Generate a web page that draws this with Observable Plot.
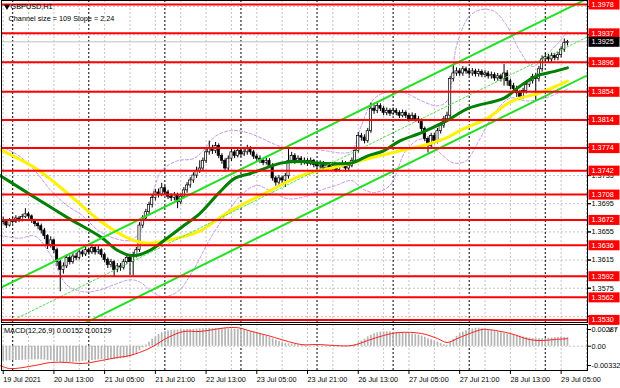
<!DOCTYPE html>
<html>
<head>
<meta charset="utf-8">
<script src="https://cdn.jsdelivr.net/npm/d3@7"></script>
<script src="https://cdn.jsdelivr.net/npm/@observablehq/plot@0.6"></script>
<style>
  html, body { margin: 0; padding: 0; background: #fff; }
  #chart { width: 620px; height: 388px; overflow: hidden; background: #fff; }
  #chart svg { display: block; }
  #chart svg.macd { margin-top: -3px; position: relative; }
</style>
</head>
<body>
<div id="chart"></div>
<script>
// ---------------- DATA ----------------
const symbolTitle = "GBPUSD,H1";
const channelSize = 109;
const channelSlope = 2.24;
const macdParams = "MACD(12,26,9)";
const macdMainLast = "0.00152";
const macdSignalLast = "0.00129";

// x-axis labels (one every 16 hourly bars, bar 0 = 19 Jul 21:00)
const labelBars = [0, 16, 32, 48, 64, 80, 96, 112, 128, 144, 160, 176];
const xLabels = ["19 Jul 2021", "20 Jul 13:00", "21 Jul 05:00", "21 Jul 21:00", "22 Jul 13:00", "23 Jul 05:00",
                 "23 Jul 21:00", "26 Jul 13:00", "27 Jul 05:00", "27 Jul 21:00", "28 Jul 13:00", "29 Jul 05:00"];
const daySeparatorBars = [3, 27, 51, 75, 99, 123, 147, 171];
const gridBars = [0, 8, 16, 24, 32, 40, 48, 56, 64, 72, 80, 88, 96, 104, 112, 120, 128, 136, 144, 152, 160, 168, 176, 184];

// price axis
const priceGrid = [1.3975, 1.3935, 1.3895, 1.3855, 1.3815, 1.3775, 1.3735, 1.3695, 1.3655, 1.3615, 1.3575, 1.3535];
const priceTickLabels = [1.3735, 1.3695, 1.3655, 1.3615, 1.3575]; // the ones not hidden by level boxes
const levels = [1.3978, 1.3937, 1.3896, 1.3854, 1.3814, 1.3774, 1.3742, 1.3708, 1.3672, 1.3636, 1.3592, 1.3562, 1.3530];
const bidPrice = 1.3925;

// hourly candles, prices in pips (x 1e-4)
const firstOpenPips = 13672;
const closePips = [
  13669,13664,13671,13669,13674,13671,13676,13680,13677,13671,
  13666,13663,13657,13649,13636,13643,13629,13612,13601,13606,
  13618,13612,13620,13618,13626,13623,13629,13626,13632,13626,
  13629,13622,13615,13608,13612,13601,13606,13604,13612,13618,
  13612,13622,13629,13664,13674,13683,13693,13703,13711,13708,
  13717,13711,13705,13703,13707,13697,13705,13714,13721,13728,
  13735,13742,13745,13756,13768,13773,13770,13777,13763,13756,
  13745,13759,13768,13763,13770,13765,13768,13773,13768,13762,
  13759,13756,13753,13756,13749,13731,13725,13731,13728,13734,
  13756,13763,13756,13759,13753,13756,13752,13756,13750,13748,
  13752,13745,13749,13745,13748,13743,13749,13752,13745,13749,
  13756,13770,13791,13789,13784,13798,13830,13827,13834,13830,
  13824,13827,13823,13827,13824,13820,13824,13820,13815,13820,
  13815,13813,13801,13787,13777,13791,13784,13798,13806,13815,
  13820,13872,13880,13883,13880,13886,13883,13880,13883,13879,
  13882,13878,13880,13876,13878,13873,13876,13872,13880,13869,
  13862,13858,13852,13847,13855,13864,13869,13875,13872,13886,
  13900,13903,13900,13905,13902,13906,13914,13923,13925
];
const highPips = [
  13676,13672,13674,13675,13678,13677,13680,13688,13683,13679,
  13673,13669,13666,13660,13651,13648,13645,13632,13615,13611,
  13622,13621,13624,13625,13630,13629,13633,13632,13636,13634,
  13635,13631,13625,13618,13616,13614,13610,13610,13616,13622,
  13621,13626,13633,13668,13678,13687,13697,13707,13715,13716,
  13724,13720,13714,13709,13711,13710,13709,13718,13725,13732,
  13739,13747,13756,13760,13772,13784,13778,13782,13780,13766,
  13759,13763,13772,13771,13774,13773,13772,13778,13776,13771,
  13765,13763,13760,13760,13759,13752,13734,13735,13734,13738,
  13775,13768,13766,13763,13762,13760,13759,13760,13758,13754,
  13756,13755,13753,13752,13752,13751,13753,13756,13755,13753,
  13760,13774,13796,13795,13793,13802,13838,13835,13838,13837,
  13833,13831,13830,13831,13830,13827,13828,13827,13823,13824,
  13823,13819,13816,13804,13790,13795,13795,13802,13810,13819,
  13825,13876,13893,13888,13887,13890,13889,13887,13887,13886,
  13886,13885,13884,13883,13882,13881,13880,13879,13893,13884,
  13872,13866,13862,13856,13859,13868,13873,13879,13880,13890,
  13905,13908,13907,13909,13908,13910,13918,13929,13927
];
const lowPips = [
  13665,13660,13662,13666,13667,13668,13669,13674,13673,13667,
  13662,13658,13652,13644,13630,13632,13624,13606,13570,13595,
  13603,13608,13609,13614,13615,13619,13620,13622,13623,13622,
  13623,13618,13611,13603,13604,13591,13597,13599,13601,13609,
  13593,13592,13618,13626,13660,13670,13679,13689,13699,13703,
  13705,13707,13701,13698,13699,13688,13694,13702,13710,13717,
  13724,13731,13738,13741,13752,13764,13765,13766,13759,13751,
  13740,13742,13755,13759,13760,13761,13762,13764,13764,13758,
  13755,13752,13749,13750,13745,13727,13720,13721,13723,13718,
  13730,13752,13751,13752,13749,13750,13748,13749,13746,13744,
  13745,13741,13742,13741,13742,13739,13740,13746,13740,13741,
  13746,13753,13767,13784,13780,13781,13795,13822,13823,13826,
  13820,13820,13819,13820,13820,13816,13817,13816,13811,13812,
  13811,13809,13797,13783,13767,13773,13779,13780,13794,13802,
  13811,13816,13868,13876,13876,13876,13879,13876,13876,13875,
  13875,13874,13874,13872,13872,13869,13869,13868,13862,13862,
  13857,13853,13846,13842,13843,13851,13860,13865,13841,13868,
  13882,13896,13895,13896,13898,13898,13902,13910,13919
];

// moving averages (read at sample bars), pips
const maSlowBars = [-1,10,20,31,41,46,52,62,67,73,83,94,104,115,125,132,140,145,153,159,163,169,178];
const maSlowPips = [13772,13746,13711,13669,13643,13639,13643,13656,13671,13688,13711,13735,13746,13759,13770,13777,13789,13801,13817,13837,13845,13852,13869];
const maFastBars = [-1,10,20,31,36,41,46,52,57,62,68,73,78,83,88,94,99,104,110,115,120,125,132,140,147,158,163,168,174,178];
const maFastPips = [13735,13704,13676,13647,13629,13621,13628,13647,13664,13681,13710,13731,13738,13746,13753,13755,13753,13752,13753,13763,13770,13784,13796,13813,13831,13845,13862,13876,13883,13888];

// Bollinger bands (read at sample bars), pips
const bbUpperBars = [-1,5,10,15,20,25,30,35,40,43,47,50,55,60,63,67,72,77,82,87,92,97,102,107,110,113,117,122,127,132,137,140,143,147,151,155,159,163,167,171,175,178];
const bbUpperPips = [13777,13763,13742,13714,13693,13678,13657,13646,13643,13654,13707,13742,13756,13759,13770,13791,13799,13796,13787,13777,13773,13773,13770,13767,13770,13806,13844,13855,13852,13841,13834,13841,13919,13961,13971,13968,13947,13912,13890,13905,13923,13940];
const bbLowerBars = [-1,5,10,15,20,25,30,35,40,43,47,50,55,60,65,70,75,80,85,90,95,100,105,110,113,117,122,127,132,137,142,146,150,155,160,165,170,175,178];
const bbLowerPips = [13650,13646,13649,13622,13580,13570,13572,13580,13587,13584,13570,13563,13570,13601,13643,13678,13707,13721,13711,13702,13705,13714,13721,13728,13717,13711,13721,13770,13787,13770,13753,13756,13784,13824,13845,13841,13844,13852,13858];

// regression channel end points (bars, prices)
const channelBars = [-1, 185];
const channelUpper = [1.35750, 1.39880];
const channelMiddle = [1.35205, 1.39335];
const channelLower = [1.34660, 1.38790];

// MACD histogram per bar (x 1e-5)
const macdHist = [
  -255,-255,-250,-250,-248,-245,-243,-240,-238,-236,
  -235,-234,-235,-238,-245,-250,-258,-268,-278,-282,
  -280,-278,-275,-270,-265,-260,-255,-250,-245,-240,
  -236,-232,-230,-230,-228,-228,-225,-220,-212,-200,
  -185,-165,-130,-80,-30,20,70,120,160,200,
  230,250,262,270,275,280,283,285,287,290,
  292,295,298,300,303,305,306,305,303,300,
  298,296,295,293,290,285,278,268,255,240,
  225,208,190,170,148,125,100,80,60,45,
  40,35,28,22,16,10,5,2,0,-3,
  -5,-6,-7,-8,-8,-7,-6,-5,-3,0,
  10,30,60,90,120,160,190,215,230,240,
  245,245,243,240,237,233,228,222,215,208,
  200,190,175,155,130,110,90,70,45,25,
  15,60,120,170,210,240,265,285,300,310,
  310,300,290,280,270,258,245,232,220,210,
  200,190,180,170,160,150,140,132,128,126,
  128,132,138,142,146,150,154,152,152
];
// MACD signal line (read at sample bars), x 1e-5
const signalBars = [-1,2,10,15,20,25,31,36,40,46,52,57,62,70,74,78,83,94,99,110,115,120,125,132,137,140,144,151,153,160,166,170,174,178];
const signalVals = [-332,-384,-332,-280,-280,-298,-246,-194,-160,-40,150,253,253,315,318,260,190,29,29,12,98,184,236,218,132,64,150,287,287,218,115,98,115,129];
const macdTicks = [0.00287, 0, -0.00332];
const macdTickLabels = ["0.00287", "0.00", "-0.00332"];

// ---------------- BUILD ----------------
const bars = closePips.map((c, i) => ({
  i,
  o: (i === 0 ? firstOpenPips : closePips[i - 1]) / 1e4,
  c: c / 1e4,
  h: highPips[i] / 1e4,
  l: lowPips[i] / 1e4
}));
const pts = (bs, vs, k) => bs.map((b, j) => ({b, v: vs[j] / k}));
const maSlow = pts(maSlowBars, maSlowPips, 1e4);
const maFast = pts(maFastBars, maFastPips, 1e4);
const bbUp = pts(bbUpperBars, bbUpperPips, 1e4);
const bbLo = pts(bbLowerBars, bbLowerPips, 1e4);
const chUp = pts(channelBars, channelUpper, 1);
const chMid = pts(channelBars, channelMiddle, 1);
const chLo = pts(channelBars, channelLower, 1);
const hist = macdHist.map((v, i) => ({i, v: v / 1e5}));
const signal = pts(signalBars, signalVals, 1e5);

// layout
const FONT = "'Liberation Sans', Arial, sans-serif";
const FS = 7.3;
const pxPerBar = 3.17, firstBarPx = 2.7;
const xDomain = [(1 - firstBarPx) / pxPerBar, (587 - firstBarPx) / pxPerBar];
const boxSymbol = {
  draw(ctx) {
    ctx.moveTo(-15.5, -5); ctx.lineTo(15.5, -5); ctx.lineTo(15.5, 5); ctx.lineTo(-15.5, 5); ctx.closePath();
  }
};
const GRID = "#c4c4c4";

const mainPlot = Plot.plot({
  width: 620, height: 326,
  marginLeft: 1, marginRight: 33, marginTop: 0, marginBottom: 4,
  x: {domain: xDomain, axis: null},
  y: {domain: [1.352630, 1.398368], axis: null},
  style: {fontFamily: FONT, fontSize: FS + "px", background: "#fff", color: "#000", overflow: "hidden"},
  marks: [
    Plot.ruleY(priceGrid, {stroke: GRID, strokeDasharray: "2,2"}),
    Plot.ruleX(gridBars, {stroke: GRID, strokeDasharray: "2,2"}),
    Plot.ruleX(daySeparatorBars, {stroke: "#000", strokeDasharray: "2,2"}),
    Plot.ruleY([bidPrice], {stroke: "#c0c0c0"}),
    Plot.line(bbUp, {x: "b", y: "v", stroke: "#c896e6", strokeWidth: 1, strokeDasharray: "3,2", curve: "catmull-rom"}),
    Plot.line(bbLo, {x: "b", y: "v", stroke: "#c896e6", strokeWidth: 1, strokeDasharray: "3,2", curve: "catmull-rom"}),
    Plot.ruleX(bars, {x: "i", y1: "l", y2: "h", stroke: "#000", strokeWidth: 1}),
    Plot.rect(bars, {x1: d => d.i - 0.35, x2: d => d.i + 0.35, y1: "o", y2: "c",
      fill: d => d.c >= d.o ? "#fff" : "#000", stroke: "#000", strokeWidth: 0.7}),
    Plot.line(maSlow, {x: "b", y: "v", stroke: "#fff200", strokeWidth: 3, curve: "catmull-rom"}),
    Plot.line(maFast, {x: "b", y: "v", stroke: "#008000", strokeWidth: 3, curve: "catmull-rom"}),
    Plot.line(chUp, {x: "b", y: "v", stroke: "#22e022", strokeWidth: 2, clip: true}),
    Plot.line(chLo, {x: "b", y: "v", stroke: "#22e022", strokeWidth: 2, clip: true}),
    Plot.line(chMid, {x: "b", y: "v", stroke: "#55dd55", strokeWidth: 1, strokeDasharray: "2,2", clip: true}),
    Plot.ruleY(levels, {stroke: "#ff0000", strokeWidth: 2}),
    Plot.frame({stroke: "#000"}),
    Plot.axisY(priceGrid, {anchor: "right", tickSize: 3, text: null}),
    Plot.axisY(priceTickLabels, {anchor: "right", tickSize: 3, tickPadding: 1, tickFormat: d => d.toFixed(4), fontSize: FS, fill: "#000"}),
    Plot.dot(levels, {y: d => d, frameAnchor: "right", dx: 16.5, symbol: boxSymbol, fill: "#ff0000", stroke: null}),
    Plot.text(levels, {y: d => d, frameAnchor: "right", dx: 4, text: d => d.toFixed(4), textAnchor: "start", fill: "#fff", fontSize: FS}),
    Plot.dot([bidPrice], {y: d => d, frameAnchor: "right", dx: 16.5, symbol: boxSymbol, fill: "#000", stroke: null}),
    Plot.text([bidPrice], {y: d => d, frameAnchor: "right", dx: 4, text: d => d.toFixed(4), textAnchor: "start", fill: "#fff", fontSize: FS}),
    Plot.dot([0], {frameAnchor: "top-left", dx: 5.5, dy: 6, symbol: "triangle", rotate: 180, r: 2.2, fill: "#000", stroke: null}),
    Plot.text([symbolTitle], {frameAnchor: "top-left", dx: 9, dy: 6, textAnchor: "start", lineAnchor: "middle", fill: "#000", fontSize: FS}),
    Plot.text([`Channel size = ${channelSize} Slope = ${channelSlope}`], {frameAnchor: "top-left", dx: 7, dy: 18, textAnchor: "start", lineAnchor: "middle", fill: "#000", fontSize: FS})
  ]
});

const macdPlot = Plot.plot({
  width: 620, height: 65,
  marginLeft: 1, marginRight: 33, marginTop: 1, marginBottom: 18,
  x: {domain: xDomain, axis: null},
  y: {domain: [-0.004179, 0.003732], axis: null},
  className: "macd",
  style: {fontFamily: FONT, fontSize: FS + "px", background: "transparent", color: "#000", overflow: "hidden"},
  marks: [
    Plot.ruleX(gridBars, {stroke: GRID, strokeDasharray: "2,2", y1: -0.004179, y2: 0.003732}),
    Plot.ruleX(daySeparatorBars, {stroke: "#000", strokeDasharray: "2,2", y1: -0.004179, y2: 0.003732}),
    Plot.ruleY([0], {stroke: GRID, strokeDasharray: "2,2"}),
    Plot.ruleX(hist, {x: "i", y1: d => 0, y2: "v", stroke: "#b4b4b4", strokeWidth: 1.7}),
    Plot.line(signal, {x: "b", y: "v", stroke: "#ff2020", strokeWidth: 1, curve: "catmull-rom"}),
    Plot.frame({stroke: "#000"}),
    Plot.axisY(macdTicks, {anchor: "right", tickSize: 3, tickPadding: 1, tickFormat: d => macdTickLabels[macdTicks.indexOf(d)], fontSize: FS, fill: "#000"}),
    Plot.axisX(labelBars, {anchor: "bottom", tickSize: 4, tickPadding: 2, textAnchor: "start", tickFormat: d => xLabels[labelBars.indexOf(d)], fontSize: FS, fill: "#000"}),
    Plot.text([`${macdParams} ${macdMainLast} ${macdSignalLast}`], {frameAnchor: "top-left", dx: 2.5, dy: 6, textAnchor: "start", lineAnchor: "middle", fill: "#000", fontSize: FS})
  ]
});
macdPlot.classList.add("macd");

document.getElementById("chart").append(mainPlot, macdPlot);
</script>
</body>
</html>
